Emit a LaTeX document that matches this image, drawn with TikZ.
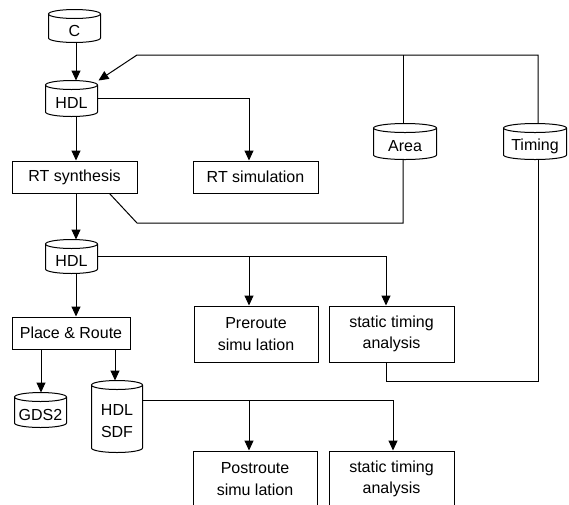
\documentclass[tikz,border=0pt]{standalone}
\usepackage{fontspec}
\setmainfont{Liberation Sans}
\usetikzlibrary{arrows.meta,calc}

% Draw a storage drum around the body of a node: the node itself is the
% part below the top ellipse.
\newcommand\drum[1]{%
  \draw let \p1=(#1.north west), \p2=(#1.south east), \n1={(\x2-\x1)/2} in
    (\x1,\y1+4.5pt) -- (\x1,\y2+4.5pt)
    arc[start angle=180, end angle=360, x radius=\n1, y radius=4.5pt]
    -- (\x2,\y1+4.5pt)
    (\x1/2+\x2/2,\y1+4.5pt) ellipse[x radius=\n1, y radius=4.5pt];}

\begin{document}
\begin{tikzpicture}[x=1pt, y=-1pt, line width=1pt,
  font=\fontsize{16}{21.5}\selectfont,
  box/.style={draw, inner sep=0pt, align=center},
  drumbody/.style={inner sep=0pt, align=center},
  link/.style={-{Triangle[length=10pt,width=9pt]}}]

\useasboundingbox (0,0) rectangle (569,504);
\clip (0,0) rectangle (569,504);

% column and row guides for the connectors
\coordinate (spine) at (76,0);
\coordinate (gcol)  at (41,0);
\coordinate (scol)  at (115,0);
\coordinate (colA)  at (249,0);
\coordinate (colB)  at (386,0);
\coordinate (colC)  at (393,0);
\coordinate (colAr) at (403,0);
\coordinate (colT)  at (538,0);
\coordinate (r0) at (0,55);
\coordinate (r1) at (0,98);
\coordinate (r2) at (0,256);
\coordinate (r3) at (0,400);
\coordinate (fb) at (137,55);
\coordinate (ab) at (137,223);
\coordinate (tb) at (386,381);

% drums (node = body below the top ellipse)
\node[drumbody, minimum width=51pt, minimum height=23pt] (C)   at (74.5,30.5) {C};
\node[drumbody, minimum width=51pt, minimum height=26pt] (H1)  at (71.5,103)  {HDL};
\node[drumbody, minimum width=51pt, minimum height=24pt] (H2)  at (71.5,261)  {HDL};
\node[drumbody, minimum width=51pt, minimum height=25pt] (G)   at (40.5,414.5) {GDS2};
\node[drumbody, minimum width=50pt, minimum height=62pt] (SDF) at (117,421)   {HDL\\SDF};
\node[drumbody, minimum width=62pt, minimum height=26pt] (Ar)  at (405,146)   {Area};
\node[drumbody, minimum width=62pt, minimum height=26pt] (Tim) at (535,146)   {Timing};
\foreach \d in {C,H1,H2,G,SDF,Ar,Tim} {\drum{\d}}

% process boxes
\node[box, minimum width=125pt, minimum height=32pt] (RS)   at (74.5,177) {RT synthesis};
\node[box, minimum width=125pt, minimum height=32pt] (RSim) at (255.5,177) {RT simulation};
\node[box, minimum width=118pt, minimum height=32pt] (PR)   at (71,333) {Place \& Route};
\node[box, minimum width=124pt, minimum height=56pt] (Pre)  at (256,334) {Preroute\\simu lation};
\node[box, minimum width=125pt, minimum height=56pt] (STA1) at (391.5,334) {static timing\\analysis};
\node[box, minimum width=124pt, minimum height=56pt] (Post) at (255,479) {Postroute\\simu lation};
\node[box, minimum width=125pt, minimum height=56pt] (STA2) at (391.5,479) {static timing\\analysis};

% main flow
\draw[link] (C.south -| spine) -- ($(H1.north -| spine)+(0,-9)$);
\draw[link] (H1.south -| spine) -- (RS.north -| spine);
\draw[link] (RS.south -| spine) -- ($(H2.north -| spine)+(0,-9)$);
\draw[link] (H2.south -| spine) -- (PR.north -| spine);
\draw[link] (PR.south -| gcol) -- ($(G.north -| gcol)+(0,-9)$);
\draw[link] (PR.south -| scol) -- ($(SDF.north -| scol)+(0,-9)$);

% branches to simulation and analysis
\draw[link] (H1.east |- r1) -| (RSim.north -| colA);
\draw[link] (H2.east |- r2) -| (STA1.north -| colB);
\draw[link] (r2 -| colA) -- (Pre.north -| colA);
\draw[link] (SDF.east |- r3) -| (STA2.north -| colC);
\draw[link] (r3 -| colA) -- (Post.north -| colA);

% feedback through the area and timing reports
\draw[link] ($(Tim.north -| colT)+(0,-9)$) |- (fb) -- ($(H1.north east)+(1,-9)$);
\draw ($(Ar.north -| colAr)+(0,-9)$) -- (r0 -| colAr);
\draw (Ar.south -| colAr) |- (ab) -- ($(RS.south east)+(-28,0)$);
\draw (Tim.south -| colT) |- (tb) -- (STA1.south -| colB);
\end{tikzpicture}
\end{document}
